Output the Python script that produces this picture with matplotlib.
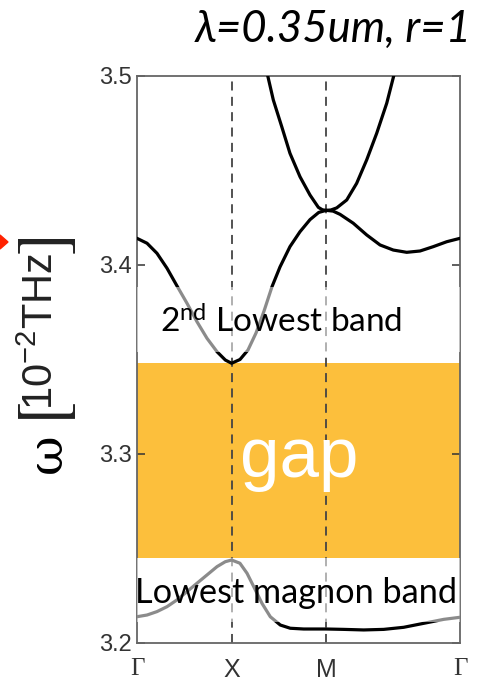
import matplotlib
matplotlib.use('Agg')
import matplotlib.pyplot as plt
import numpy as np
from matplotlib.patches import Polygon

# k-path positions (Gamma - X - M - Gamma)
kpts = [0.0, 1.0, 2.0, 2.0 + np.sqrt(2)]
klabels = ['Γ', 'X', 'M', 'Γ']

# lowest band
band1_k = [0.0, 0.106, 0.211, 0.317, 0.423, 0.529, 0.634, 0.740, 0.846, 0.933, 1.0,
           1.088, 1.163, 1.234, 1.321, 1.409, 1.515, 1.620, 1.762, 1.903, 2.0,
           2.185, 2.396, 2.608, 2.819, 3.030, 3.242, 3.414]
band1_w = [3.2139, 3.2148, 3.2166, 3.2192, 3.2228, 3.2272, 3.2316, 3.2360, 3.2404, 3.2430, 3.2439,
           3.2422, 3.2369, 3.2298, 3.2210, 3.2139, 3.2095, 3.2078, 3.2074, 3.2074, 3.2074,
           3.2072, 3.2069, 3.2072, 3.2083, 3.2104, 3.2125, 3.2136]

# second band
band2_k = [0.0, 0.106, 0.211, 0.317, 0.423, 0.529, 0.634, 0.740, 0.846, 0.934, 1.0,
           1.089, 1.173, 1.258, 1.342, 1.427, 1.512, 1.617, 1.723, 1.829, 1.921, 2.0,
           2.073, 2.146, 2.286, 2.428, 2.569, 2.709, 2.851, 2.992, 3.132, 3.274, 3.414]
band2_w = [3.4141, 3.4115, 3.4062, 3.3983, 3.3889, 3.3797, 3.3700, 3.3612, 3.3541, 3.3497, 3.3480,
           3.3500, 3.3550, 3.3640, 3.3755, 3.3885, 3.3990, 3.4097, 3.4176, 3.4240, 3.4278, 3.4289,
           3.4285, 3.4268, 3.4221, 3.4159, 3.4106, 3.4079, 3.4067, 3.4074, 3.4097, 3.4123, 3.4141]

# third band
band3_k = [1.364, 1.441, 1.530, 1.617, 1.723, 1.829, 1.917, 1.960, 2.0,
           2.050, 2.111, 2.217, 2.322, 2.428, 2.534, 2.640, 2.734]
band3_w = [3.5040, 3.4873, 3.4732, 3.4591, 3.4467, 3.4370, 3.4305, 3.4292, 3.4289,
           3.4291, 3.4302, 3.4344, 3.4432, 3.4556, 3.4697, 3.4856, 3.5040]

gap_lo, gap_hi = 3.2448, 3.348
yticks = [3.2, 3.3, 3.4, 3.5]

plt.rcParams['mathtext.rm'] = 'Lato'
plt.rcParams['mathtext.it'] = 'Lato:italic'
plt.rcParams['mathtext.sf'] = 'Liberation Sans'

fig = plt.figure(figsize=(4.8, 6.82), dpi=100)
ax = fig.add_axes([0.2854, 0.0572, 0.6729, 0.8314])

ax.axhspan(gap_lo, gap_hi, color='#fcbf3c', lw=0, zorder=1)
for k in kpts[1:3]:
    ax.axvline(k, color='#444444', lw=1.3, ls=(0, (5, 3.5)), zorder=2)

for bk, bw in [(band1_k, band1_w), (band2_k, band2_w), (band3_k, band3_w)]:
    ax.plot(bk, bw, color='black', lw=2.3, zorder=3, solid_capstyle='round',
            solid_joinstyle='round')

# white boxes behind the labels
ax.axhspan(3.3541, 3.3885, color='white', alpha=0.55, lw=0, zorder=4)
ax.axhspan(3.2113, gap_lo, color='white', alpha=0.55, lw=0, zorder=4)

ax.text(0.243, 3.364, r'2$^{\mathrm{nd}}$ Lowest band', family='Lato', fontsize=24,
        math_fontfamily='custom', ha='left', va='baseline', zorder=5)
ax.text(-0.02, 3.2212, 'Lowest magnon band', family='Lato', fontsize=24.7,
        ha='left', va='baseline', zorder=5, clip_on=False)
ax.text(1.712, 3.2878, 'gap', family='Liberation Sans', fontsize=51, color='white',
        ha='center', va='baseline', zorder=5)

ax.set_xlim(kpts[0], kpts[-1])
ax.set_ylim(3.2, 3.5)
ax.set_yticks(yticks)
ax.set_yticklabels([f'{v:.1f}' for v in yticks])
ax.tick_params(axis='y', direction='in', length=6, width=1.1, color='#333333',
               labelsize=17, labelcolor='#333333', pad=4, right=True)
for lab in ax.get_yticklabels():
    lab.set_family('Liberation Sans')
ax.set_xticks(kpts)
ax.set_xticklabels(klabels)
ax.tick_params(axis='x', length=0, labelsize=18, labelcolor='#333333', pad=11)
for lab in ax.get_xticklabels():
    lab.set_family('Liberation Serif' if lab.get_text() == 'Γ' else 'Liberation Sans')

for s in ax.spines.values():
    s.set_color('#666666')
    s.set_linewidth(1.3)

# y label: serif omega, tall brackets and unit, placed piece by piece
fig.text(47 / 480, 1 - 453 / 682, 'ω', family='DejaVu Serif', fontsize=35,
         rotation=90, ha='center', va='center')
fig.text(46 / 480, 1 - 414 / 682, r'$[$', fontsize=50, math_fontfamily='stixsans',
         rotation=90, ha='center', va='center', color='#222222')
fig.text(41 / 480, 1 - 331 / 682, r'$\mathsf{10^{-2}THz}$', fontsize=30,
         math_fontfamily='custom', rotation=90, ha='center', va='center', color='#222222')
fig.text(46 / 480, 1 - 246 / 682, r'$]$', fontsize=50, math_fontfamily='stixsans',
         rotation=90, ha='center', va='center', color='#222222')

fig.text(472 / 480, 1 - 42 / 682, 'λ=0.35um, r=1', family='Lato', style='italic',
         fontsize=31.5, ha='right', va='baseline')

# red arrow tip at left edge
fig.patches.append(Polygon([[0, 1 - 235 / 682], [8 / 480, 1 - 242 / 682], [0, 1 - 249 / 682]],
                           closed=True, color='#ff2200', transform=fig.transFigure))

fig.savefig('out.png', dpi=100)
